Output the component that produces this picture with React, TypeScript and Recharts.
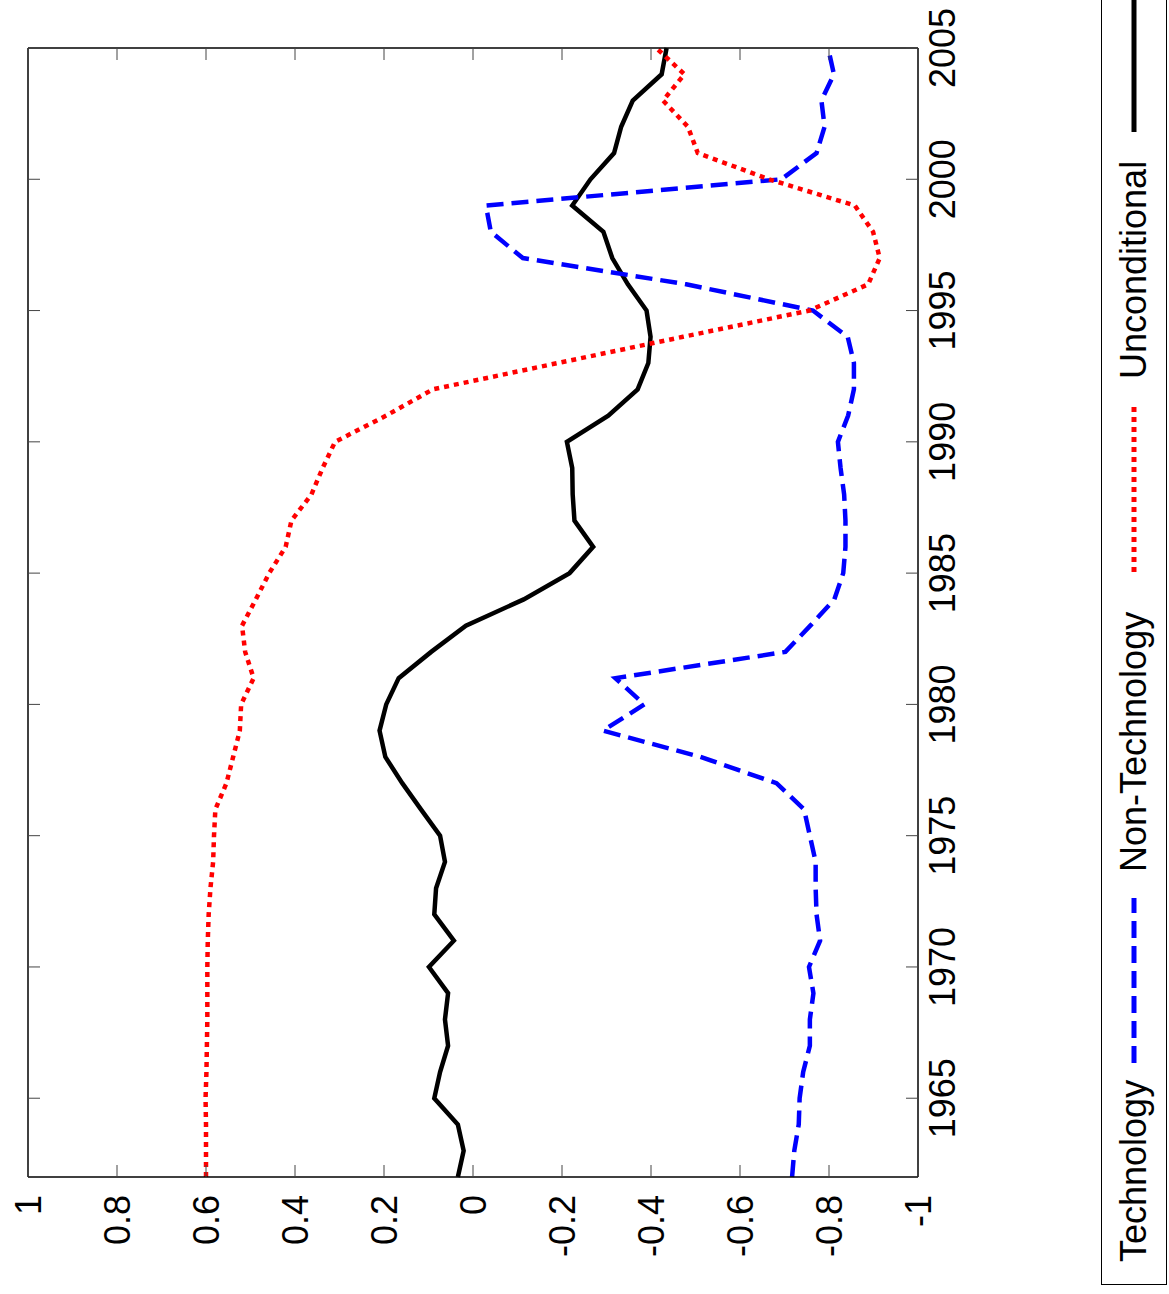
import React from "react";
import { LineChart, Line, XAxis, YAxis } from "recharts";

const years = [
  1962, 1963, 1964, 1965, 1966, 1967, 1968, 1969, 1970, 1971, 1972,
  1973, 1974, 1975, 1976, 1977, 1978, 1979, 1980, 1981, 1982, 1983,
  1984, 1985, 1986, 1987, 1988, 1989, 1990, 1991, 1992, 1993, 1994,
  1995, 1996, 1997, 1998, 1999, 2000, 2001, 2002, 2003, 2004, 2005,
];

// blue dashed
const technology = [
  -0.717, -0.722, -0.732, -0.734, -0.742, -0.757, -0.757, -0.765, -0.755, -0.78, -0.772,
  -0.77, -0.77, -0.757, -0.744, -0.682, -0.511, -0.292, -0.385, -0.32, -0.702, -0.758,
  -0.812, -0.832, -0.837, -0.837, -0.834, -0.826, -0.82, -0.843, -0.856, -0.856, -0.842,
  -0.764, -0.479, -0.112, -0.04, -0.029, -0.693, -0.772, -0.79, -0.783, -0.811, -0.798,
];

// red dotted
const nonTechnology = [
  0.6, 0.6, 0.6, 0.601, 0.599, 0.598, 0.597, 0.597, 0.597, 0.596, 0.594,
  0.59, 0.584, 0.582, 0.579, 0.554, 0.539, 0.524, 0.521, 0.493, 0.512, 0.519,
  0.488, 0.458, 0.421, 0.408, 0.363, 0.338, 0.31, 0.195, 0.09, -0.19, -0.472,
  -0.756, -0.888, -0.914, -0.899, -0.858, -0.665, -0.505, -0.483, -0.427, -0.475, -0.412,
];

// black solid
const unconditional = [
  0.034, 0.021, 0.034, 0.087, 0.074, 0.056, 0.063, 0.056, 0.099, 0.043, 0.087,
  0.083, 0.063, 0.074, 0.117, 0.159, 0.197, 0.21, 0.195, 0.167, 0.094, 0.016,
  -0.114, -0.217, -0.27, -0.228, -0.224, -0.223, -0.211, -0.304, -0.37, -0.394, -0.399,
  -0.39, -0.348, -0.313, -0.293, -0.223, -0.264, -0.317, -0.333, -0.359, -0.424, -0.435,
];

const yearTicks = [1965, 1970, 1975, 1980, 1985, 1990, 1995, 2000, 2005];
const valueTicks = [-1, -0.8, -0.6, -0.4, -0.2, 0, 0.2, 0.4, 0.6, 0.8, 1];

const data = years.map((year, i) => ({
  year,
  tech: technology[i],
  nonTech: nonTechnology[i],
  uncond: unconditional[i],
}));

const FONT = '"Liberation Sans", Arial, Helvetica, sans-serif';
const FS = 36;
const fmt = (v: number) => String(Number(v.toFixed(1)));

// chart is drawn upright (1294 x 1169) and then turned a quarter turn left
const W = 1294;
const H = 1169;
const M = { top: 28, right: 48, left: 0, bottom: 211 };
const Y_W = 117;
const X_H = 40;
const PLOT_L = M.left + Y_W;
const PLOT_R = W - M.right;
const PLOT_T = M.top;
const PLOT_B = H - M.bottom - X_H;
const TICK = 12;
const TICK_COLOR = "#444";

// year labels plus inward tick marks on bottom and top frame
const YearTick = ({ x, payload }: any) => (
  <g>
    <line x1={x} x2={x} y1={PLOT_B} y2={PLOT_B - TICK} stroke={TICK_COLOR} strokeWidth={1} />
    <line x1={x} x2={x} y1={PLOT_T} y2={PLOT_T + TICK} stroke={TICK_COLOR} strokeWidth={1} />
    <text x={x} y={PLOT_B + 11} dy="0.72em" textAnchor="middle" fontSize={FS} fontFamily={FONT} fill="#000">
      {payload.value}
    </text>
  </g>
);

// value labels plus inward tick marks on left and right frame
const ValueTick = ({ y, payload }: any) => (
  <g>
    <line x1={PLOT_L} x2={PLOT_L + TICK} y1={y} y2={y} stroke={TICK_COLOR} strokeWidth={1} />
    <line x1={PLOT_R} x2={PLOT_R - TICK} y1={y} y2={y} stroke={TICK_COLOR} strokeWidth={1} />
    <text x={PLOT_L - 18} y={y} dy="0.36em" textAnchor="end" fontSize={FS} fontFamily={FONT} fill="#000">
      {fmt(payload.value)}
    </text>
  </g>
);

const Sample = ({ color, dash, width }: { color: string; dash?: string; width: number }) => (
  <svg width={width} height={20} style={{ display: "block" }}>
    <line x1={0} y1={10} x2={width} y2={10} stroke={color} strokeWidth={5} strokeDasharray={dash} />
  </svg>
);

const legendItem = (left: number): React.CSSProperties => ({
  position: "absolute",
  left,
  top: "50%",
  transform: "translateY(-50%)",
  lineHeight: 1,
});

export default function App() {
  return (
    <div
      style={{
        position: "absolute",
        left: 0,
        top: 0,
        width: W,
        height: H,
        background: "#fff",
        transformOrigin: "0 0",
        transform: `translateY(${W}px) rotate(-90deg)`,
        fontFamily: FONT,
      }}
    >
      <LineChart width={W} height={H} data={data} margin={M}>
        <XAxis
          xAxisId="b"
          dataKey="year"
          type="number"
          domain={[1962, 2005]}
          ticks={yearTicks}
          interval={0}
          height={X_H}
          tickLine={false}
          tickSize={0}
          axisLine={{ stroke: "#000", strokeWidth: 1.5 }}
          tick={<YearTick />}
        />
        <XAxis
          xAxisId="t"
          orientation="top"
          dataKey="year"
          type="number"
          domain={[1962, 2005]}
          ticks={yearTicks}
          mirror
          tick={false}
          tickLine={false}
          axisLine={{ stroke: "#000", strokeWidth: 1.5 }}
        />
        <YAxis
          yAxisId="l"
          type="number"
          domain={[-1, 1]}
          ticks={valueTicks}
          interval={0}
          width={Y_W}
          tickLine={false}
          tickSize={0}
          axisLine={{ stroke: "#000", strokeWidth: 1.5 }}
          tick={<ValueTick />}
        />
        <YAxis
          yAxisId="r"
          orientation="right"
          type="number"
          domain={[-1, 1]}
          ticks={valueTicks}
          mirror
          tick={false}
          tickLine={false}
          axisLine={{ stroke: "#000", strokeWidth: 1.5 }}
        />
        <Line xAxisId="b" yAxisId="l" dataKey="uncond" name="Unconditional" stroke="#000" strokeWidth={4.5} dot={false} activeDot={false} isAnimationActive={false} />
        <Line xAxisId="b" yAxisId="l" dataKey="tech" name="Technology" stroke="#0000ff" strokeWidth={4.5} strokeDasharray="17 8" dot={false} activeDot={false} isAnimationActive={false} />
        <Line xAxisId="b" yAxisId="l" dataKey="nonTech" name="Non-Technology" stroke="#ff0000" strokeWidth={4.5} strokeDasharray="5 5" dot={false} activeDot={false} isAnimationActive={false} />
      </LineChart>

      <div
        style={{
          position: "absolute",
          left: 9,
          top: 1101,
          width: 1320,
          height: 66,
          border: "1.5px solid #000",
          boxSizing: "border-box",
          fontSize: FS,
          color: "#000",
          whiteSpace: "nowrap",
        }}
      >
        <span style={legendItem(22)}>Technology</span>
        <div style={legendItem(221)}>
          <Sample color="#0000ff" dash="17 8" width={165} />
        </div>
        <span style={legendItem(412)}>Non-Technology</span>
        <div style={legendItem(712)}>
          <Sample color="#ff0000" dash="5 5" width={168} />
        </div>
        <span style={legendItem(905)}>Unconditional</span>
        <div style={legendItem(1152)}>
          <Sample color="#000" width={200} />
        </div>
      </div>
    </div>
  );
}
